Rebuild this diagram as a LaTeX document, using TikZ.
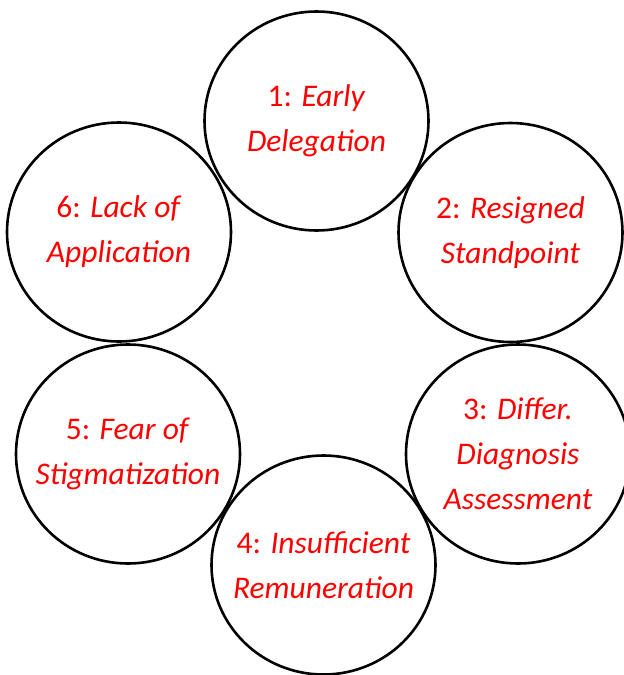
\documentclass[tikz,border=0pt]{standalone}
\usepackage{fontspec}
\setmainfont{Carlito}
\usepackage{xcolor}
\usepackage{tikz}
\usetikzlibrary{positioning,shapes.geometric}
\definecolor{barrierc}{RGB}{255,0,0}
\tikzset{
  barrier/.style = {ellipse, draw=black, line width=2.6pt, minimum width=224pt,
                    minimum height=219pt, inner sep=0pt},
  lbl/.style     = {align=center, inner sep=0pt, text=barrierc,
                    font=\fontsize{31.5}{45}\selectfont},
}

\begin{document}
\begin{tikzpicture}[x=1pt, y=-1pt]
\useasboundingbox (0,0) rectangle (624,675);
\clip (0,0) rectangle (624,675);

% --- ring of barriers, clockwise from the top ---------------------------
\node[barrier] (deleg)  at (316.5,121) {};
\node[barrier] (stand)  at (510.5,232.5) {};
\node[barrier] (diag)   at (518,454) {};
\node[barrier] (remun)  at (323.5,565) {};
\node[barrier] (stigma) at (128,454) {};
\node[barrier] (appl)   at (119,232) {};

% --- labels -------------------------------------------------------------
\node[lbl] at (deleg)  {1: \textit{Early}\\\textit{Delegation}};
\node[lbl] at (stand)  {2: \textit{Resigned}\\\textit{Standpoint}};
\node[lbl] at (diag)   {3: \textit{Differ.}\\\textit{Diagnosis}\\\textit{Assessment}};
\node[lbl] at (remun)  {4: \textit{Insufficient}\\\textit{Remuneration}};
\node[lbl] at (stigma) {5: \textit{Fear of}\\\textit{Stigmatization}};
\node[lbl] at (appl)   {6: \textit{Lack of}\\\textit{Application}};

\end{tikzpicture}
\end{document}
